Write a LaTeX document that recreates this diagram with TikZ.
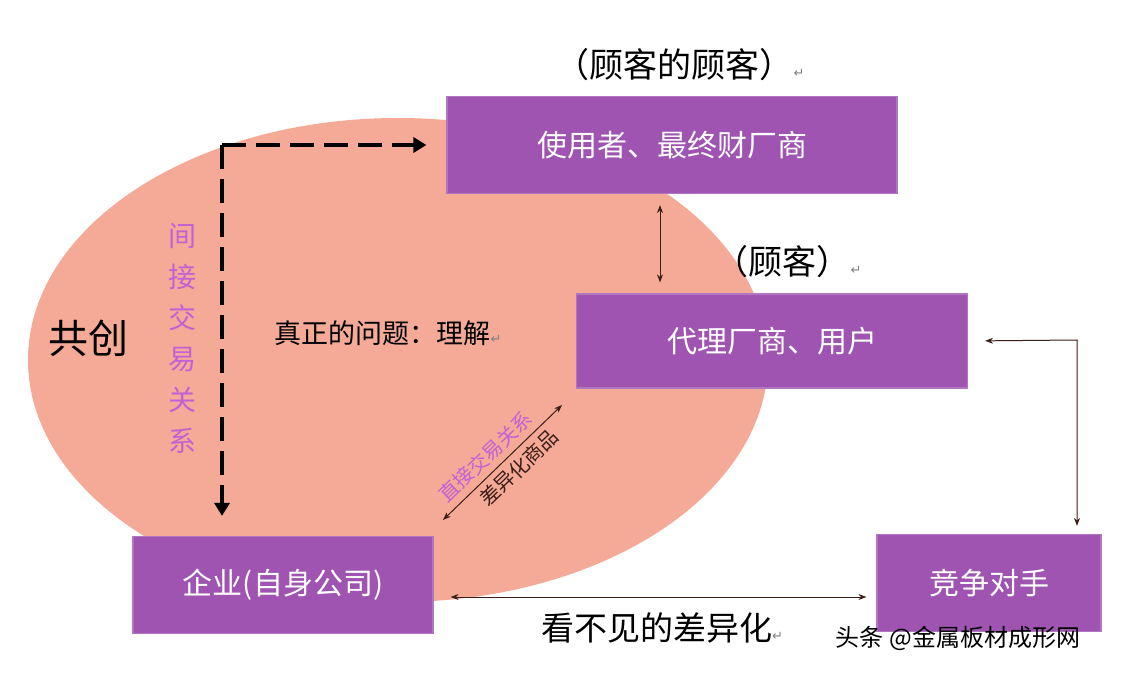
\documentclass[tikz,border=0pt]{standalone}
\usepackage{fontspec}
\usepackage{xcolor}
\usepackage{tikz}
\usetikzlibrary{arrows.meta}
\newfontfamily\cjk{Noto Sans CJK SC}
\newfontfamily\symf{DejaVu Sans}
\definecolor{boxpurple}{RGB}{158,84,176}
\definecolor{blobpink}{RGB}{244,170,150}
\definecolor{linkpurple}{RGB}{196,96,214}
\definecolor{arrowbrown}{RGB}{60,30,25}
\newcommand{\retmark}{{\symf\fontsize{13}{13}\selectfont\color{gray}↵}}

\begin{document}
\begin{tikzpicture}[x=1pt,y=-1pt,
    box/.style={fill=boxpurple, draw=boxpurple!80!white, line width=1.2pt,
        text=white, font=\cjk\fontsize{30}{36}\selectfont},
    lbl/.style={text=black, font=\cjk\fontsize{#1}{#1}\selectfont},
    dasharrow/.style={line width=3.5pt, dash pattern=on 24pt off 10pt,
        -{Triangle[length=13pt,width=15pt]}},
    dbl/.style={arrowbrown, line width=1pt, {Stealth[length=8pt,width=6pt]}-{Stealth[length=8pt,width=6pt]}}]
    \useasboundingbox (0,0) rectangle (1122,674);
    \fill[white] (0,0) rectangle (1122,674);
    % co-creation area
    \fill[blobpink] (398,360) ellipse [x radius=370, y radius=242];

    % boxes
    \node[box, minimum width=450pt, minimum height=97pt] (user) at (672,145) {使用者、最终财厂商};
    \node[box, minimum width=391pt, minimum height=94pt] (agent) at (772,341) {代理厂商、用户};
    \node[box, minimum width=300pt, minimum height=97pt] (ent) at (283,585) {企业(自身公司)};
    \node[box, minimum width=224pt, minimum height=97pt] (rival) at (989,583) {竞争对手};

    % labels
    \node[lbl=34] (custcust) at (680,65) {（顾客的顾客）\retmark};
    \node[lbl=34] (cust) at (788,262) {（顾客）\retmark};
    \node[lbl=40] (cocreate) at (88,338) {共创};
    \node[lbl=27] (truth) at (388,333) {真正的问题：理解\retmark};
    \node[lbl=33] (hidden) at (662,628) {看不见的差异化\retmark};
    \node[text=linkpurple, font=\cjk\fontsize{28}{41}\selectfont, align=center] (indirect) at (182,338)
        {间\\接\\交\\易\\关\\系};
    \node[lbl=24] (mark) at (958,638) {头条 @金属板材成形网};

    % indirect route
    \coordinate (dc) at (222,145);
    \draw[dasharrow, shorten >=20pt] (dc) -- (dc -| user.west);
    \draw[dasharrow, shorten >=20pt] (dc) -- (dc |- ent.north);

    % customer chain
    \coordinate (vx) at (660,0);
    \draw[dbl, shorten <=11pt, shorten >=11pt] (user.south -| vx) -- (agent.north -| vx);

    % direct route
    \coordinate (dA) at (443,520);
    \coordinate (dB) at (562,405);
    \draw[dbl] (dA) -- node[sloped, above=3pt, pos=0.45, text=linkpurple, font=\cjk\fontsize{20}{20}\selectfont] {直接交易关系}
        node[sloped, below=2pt, pos=0.55, font=\cjk\fontsize{20}{20}\selectfont] {差异化商品} (dB);

    % competitor
    \coordinate (rTurn) at (1077,340);
    \draw[dbl, shorten <=17pt, shorten >=8pt] (agent.east) -- (rTurn) -- (rTurn |- rival.north);
    \coordinate (bL) at ([yshift=-12pt]ent.east);
    \draw[dbl, shorten <=17pt, shorten >=10pt] (bL) -- (bL -| rival.west);
\end{tikzpicture}
\end{document}
